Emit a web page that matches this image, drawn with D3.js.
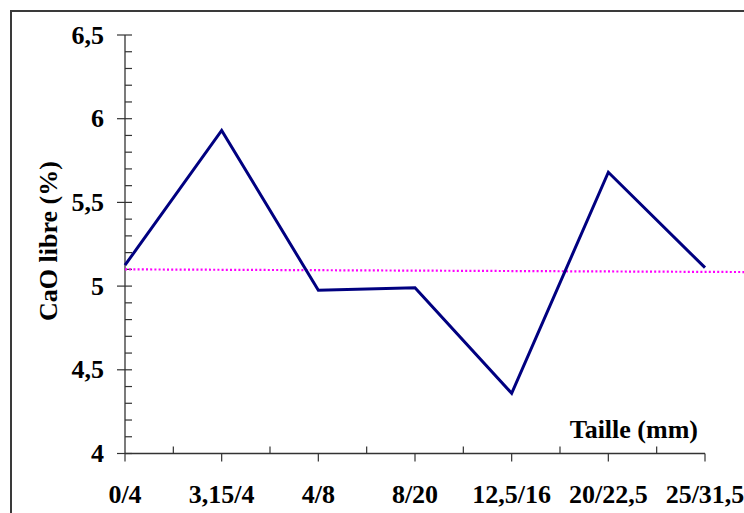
<!DOCTYPE html>
<html>
<head>
<meta charset="utf-8">
<script src="https://cdn.jsdelivr.net/npm/d3@7"></script>
<style>
  html, body { margin: 0; padding: 0; background: #fff; }
  svg { display: block; }
</style>
</head>
<body>
<svg id="chart" width="744" height="513"></svg>
<script>
const categories = ["0/4", "3,15/4", "4/8", "8/20", "12,5/16", "20/22,5", "25/31,5"];
const caoValues = [5.125, 5.93, 4.975, 4.99, 4.36, 5.68, 5.11];
const trendEnds = [5.10, 5.085]; // dotted reference line value at first and last category
const yTicks = [4, 4.5, 5, 5.5, 6, 6.5];
const yTickLabels = ["4", "4,5", "5", "5,5", "6", "6,5"];
const yTitle = "CaO libre (%)";
const xTitle = "Taille (mm)";

const W = 744, H = 513;
const svg = d3.select("#chart");
const FONT = '"Liberation Serif", "Times New Roman", Times, serif';
function styleText(sel, size) {
  return sel.style("font-family", FONT).style("font-weight", "bold")
    .style("font-size", size + "px").style("fill", "#000");
}

// frame
svg.append("rect")
  .attr("x", 11).attr("y", 11)
  .attr("width", W + 20).attr("height", H + 20)
  .attr("fill", "none").attr("stroke", "#3a3a3a").attr("stroke-width", 2);

const x0 = 125, x1 = 705, yTop = 35, yBot = 453.5;
const x = d3.scalePoint().domain(categories.map((d, i) => i)).range([x0, x1]);
const y = d3.scaleLinear().domain([4, 6.5]).range([yBot, yTop]);

const axisColor = "#333";

// Y axis
const gy = svg.append("g");
gy.append("line").attr("x1", x0).attr("x2", x0).attr("y1", y(6.5)).attr("y2", y(4))
  .attr("stroke", axisColor).attr("stroke-width", 1.3);
const minor = d3.range(0, 26).map(i => 4 + i * 0.1).filter(v => Math.abs(v * 2 - Math.round(v * 2)) > 1e-6);
gy.selectAll(".ymin").data(minor).join("line")
  .attr("x1", x0).attr("x2", x0 + 7)
  .attr("y1", d => y(d)).attr("y2", d => y(d))
  .attr("stroke", axisColor).attr("stroke-width", 1.2);
gy.selectAll(".ymaj").data(yTicks).join("line")
  .attr("x1", x0 - 8).attr("x2", x0 + 7)
  .attr("y1", d => y(d)).attr("y2", d => y(d))
  .attr("stroke", axisColor).attr("stroke-width", 1.2);
styleText(gy.selectAll(".ylab").data(yTicks).join("text")
  .attr("x", x0 - 21).attr("y", d => y(d))
  .attr("dy", "0.33em")
  .attr("text-anchor", "end")
  .text((d, i) => yTickLabels[i]), 26);

// X axis
const gx = svg.append("g");
gx.append("line").attr("x1", x0).attr("x2", x1).attr("y1", yBot).attr("y2", yBot)
  .attr("stroke", axisColor).attr("stroke-width", 1.3);
gx.selectAll(".xmaj").data(categories.map((d, i) => i)).join("line")
  .attr("x1", d => x(d)).attr("x2", d => x(d))
  .attr("y1", yBot).attr("y2", yBot + 8)
  .attr("stroke", axisColor).attr("stroke-width", 1.2);
const step = x.step();
gx.selectAll(".xmin").data(categories.slice(1).map((d, i) => i + 0.5)).join("line")
  .attr("x1", d => x0 + d * step).attr("x2", d => x0 + d * step)
  .attr("y1", yBot).attr("y2", yBot - 7)
  .attr("stroke", axisColor).attr("stroke-width", 1.2);
styleText(gx.selectAll(".xlab").data(categories).join("text")
  .attr("x", (d, i) => x(i)).attr("y", 503)
  .attr("text-anchor", "middle")
  .text(d => d), 26);

// titles
styleText(svg.append("text")
  .attr("transform", `translate(57,241) rotate(-90)`)
  .attr("text-anchor", "middle")
  .text(yTitle), 26);
styleText(svg.append("text")
  .attr("x", 698).attr("y", 438)
  .attr("text-anchor", "end")
  .text(xTitle), 26);

// dotted trend line extended to right edge
const n = categories.length - 1;
const slope = (trendEnds[1] - trendEnds[0]) / n;
const xEndIdx = (W - x0) / step;
svg.append("line")
  .attr("x1", x(0)).attr("y1", y(trendEnds[0]))
  .attr("x2", x0 + xEndIdx * step).attr("y2", y(trendEnds[0] + slope * xEndIdx))
  .attr("stroke", "#ff00ff").attr("stroke-width", 2.2)
  .attr("stroke-dasharray", "2,2.2");

// data line
svg.append("path")
  .datum(caoValues)
  .attr("fill", "none")
  .attr("stroke", "#000080")
  .attr("stroke-width", 3)
  .attr("stroke-linejoin", "miter")
  .attr("d", d3.line().x((d, i) => x(i)).y(d => y(d)));
</script>
</body>
</html>
